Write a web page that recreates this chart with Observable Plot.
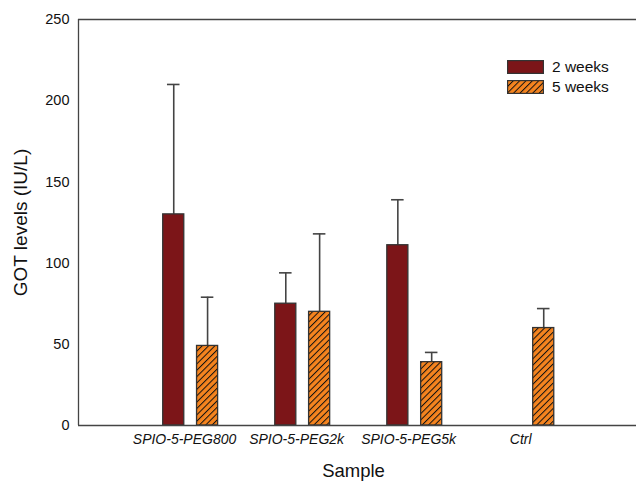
<!DOCTYPE html>
<html>
<head>
<meta charset="utf-8">
<script src="https://cdn.jsdelivr.net/npm/d3@7"></script>
<script src="https://cdn.jsdelivr.net/npm/@observablehq/plot@0.6"></script>
<style>
  body { margin: 0; background: #fff; font-family: "Liberation Sans", Arial, sans-serif; }
  #wrap { position: relative; width: 636px; height: 481px; }
  #legend { position: absolute; left: 507px; top: 57px; font-size: 15.5px; color: #111; }
  #legend div { display: flex; align-items: center; height: 20px; }
  #legend svg { margin-right: 8px; }
</style>
</head>
<body>
<div id="wrap"></div>
<script>
const samples = ["SPIO-5-PEG800", "SPIO-5-PEG2k", "SPIO-5-PEG5k", "Ctrl"];
const series = ["2 weeks", "5 weeks"];
const means2w = [130, 75, 111, null];
const errs2w = [80, 19, 28, null];
const means5w = [49, 70, 39, 60];
const errs5w = [30, 48, 6, 12];
const yTicks = [0, 50, 100, 150, 200, 250];

const offsets = {"2 weeks": -0.15, "5 weeks": 0.152};
const halfW = 0.094, capHalf = 0.056;

const rows = [];
samples.forEach((s, i) => {
  if (means2w[i] != null) rows.push({sample: s, idx: i + 1, series: "2 weeks", mean: means2w[i], err: errs2w[i]});
  if (means5w[i] != null) rows.push({sample: s, idx: i + 1, series: "5 weeks", mean: means5w[i], err: errs5w[i]});
});
rows.forEach(d => { d.xc = d.idx + offsets[d.series]; d.top = d.mean + d.err; });

const defsMark = () => {
  const svgNS = "http://www.w3.org/2000/svg";
  const defs = document.createElementNS(svgNS, "defs");
  defs.innerHTML = `<pattern id="hatch" patternUnits="userSpaceOnUse" width="4.5" height="4.5" patternTransform="rotate(45)">
      <rect width="4.5" height="4.5" fill="#F5841F"/>
      <line x1="0" y1="0" x2="0" y2="4.5" stroke="#111" stroke-width="2"/>
    </pattern>`;
  return defs;
};

const plot = Plot.plot({
  width: 636,
  height: 481,
  marginLeft: 78,
  marginRight: 0,
  marginTop: 19,
  marginBottom: 56,
  style: {fontFamily: "Liberation Sans, Arial, sans-serif", background: "#fff", color: "#111"},
  x: {domain: [0, 4.98], axis: null},
  y: {domain: [0, 250], axis: null},
  marks: [
    defsMark,
    Plot.ruleX(rows, {x: "xc", y1: "mean", y2: "top", stroke: "#444", strokeWidth: 1.6}),
    Plot.ruleY(rows, {y: "top", x1: d => d.xc - capHalf, x2: d => d.xc + capHalf, stroke: "#444", strokeWidth: 1.6}),
    Plot.rectY(rows, {
      x1: d => d.xc - halfW, x2: d => d.xc + halfW, y1: 0, y2: "mean",
      fill: d => d.series === "2 weeks" ? "#7C1518" : "url(#hatch)",
      stroke: "#333", strokeWidth: 1.3
    }),
    Plot.ruleX([0], {stroke: "#444", strokeWidth: 1.3}),
    Plot.ruleY([0, 250], {stroke: "#444", strokeWidth: 1.3}),
    Plot.axisY(yTicks, {ticks: yTicks, tickSize: 0, tickPadding: 9, fontSize: 14.5, label: null}),
    Plot.axisX(samples.map((s, i) => i + 1), {ticks: samples.map((s, i) => i + 1), tickFormat: v => samples[v - 1], tickSize: 0, tickPadding: 9, fontSize: 14, fontStyle: "italic", label: null, dx: -6}),
    Plot.text(["GOT levels (IU/L)"], {frameAnchor: "left", textAnchor: "middle", dx: -58, dy: 0, rotate: -90, fontSize: 19, fill: "#111"}),
    Plot.text(["Sample"], {frameAnchor: "bottom", dx: -4, dy: 51, fontSize: 18.5, fill: "#111"})
  ]
});

const wrap = document.getElementById("wrap");
wrap.appendChild(plot);

const legend = document.createElement("div");
legend.id = "legend";
legend.innerHTML = series.map(s => `<div><svg width="37" height="14"><defs><pattern id="hatchL" patternUnits="userSpaceOnUse" width="4.5" height="4.5" patternTransform="rotate(45)"><rect width="4.5" height="4.5" fill="#F5841F"/><line x1="0" y1="0" x2="0" y2="4.5" stroke="#111" stroke-width="2"/></pattern></defs><rect x="0.6" y="0.6" width="35.8" height="12.8" fill="${s === "2 weeks" ? "#7C1518" : "url(#hatchL)"}" stroke="#333" stroke-width="1.2"/></svg><span>${s}</span></div>`).join("");
wrap.appendChild(legend);
</script>
</body>
</html>
